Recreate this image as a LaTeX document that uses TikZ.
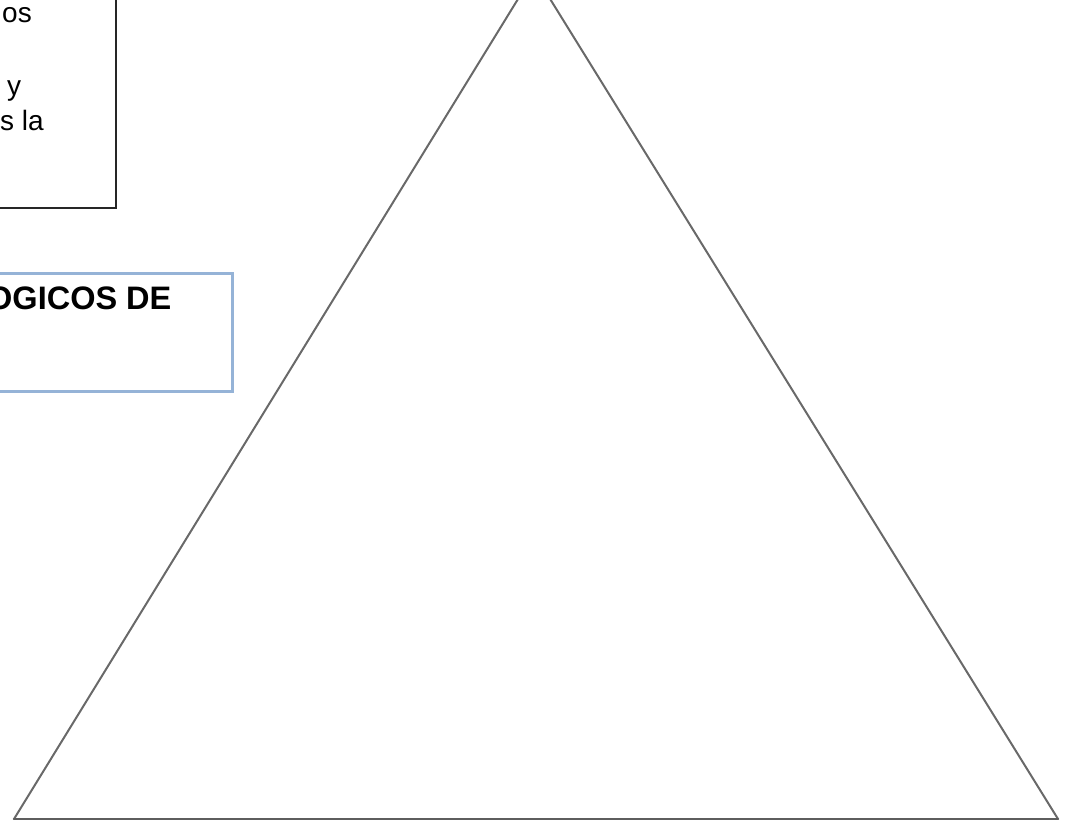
\documentclass[tikz,border=0pt]{standalone}
\usepackage{fontspec}
\setmainfont{Liberation Sans}
\usetikzlibrary{positioning}

\definecolor{boxblue}{RGB}{149,179,215}
\definecolor{edgegray}{RGB}{105,105,105}

\begin{document}
\begin{tikzpicture}[
    x=1pt, y=-1pt,
    font=\fontsize{28}{33}\selectfont,
    frag/.style={anchor=base west, inner sep=0pt},
    side/.style={draw=edgegray, line width=2pt, line cap=round},
  ]
  \useasboundingbox (0,0) rectangle (1070,829);
  \clip (0,0) rectangle (1070,829);

  % ============================================================
  % Text box (top left, mostly off the page)
  % ============================================================
  \draw[black!85, line width=1.2pt] (-20,-20) rectangle (116,208);
  \node[frag] (os) at (2,23) {os};
  \node[frag] (y) at (7,96) {y};
  \node[frag] (sla) at (0,131) {s la};

  % ============================================================
  % Title box (blue frame)
  % ============================================================
  \draw[boxblue, line width=3pt] (-20,273) rectangle (232,391);
  \node[frag, font=\fontsize{32.5}{36}\selectfont\bfseries] (title) at (-13,309) {OGICOS DE};

  % ============================================================
  % Triangle
  % ============================================================
  \coordinate (apex) at (534,-27);
  \coordinate (bl) at (14,819);
  \coordinate (br) at (1058,819);
  \draw[side] (bl) -- (apex) -- (br);
  \draw[side, line width=2.6pt, draw=edgegray!90!black] (bl) -- (br);

\end{tikzpicture}
\end{document}
